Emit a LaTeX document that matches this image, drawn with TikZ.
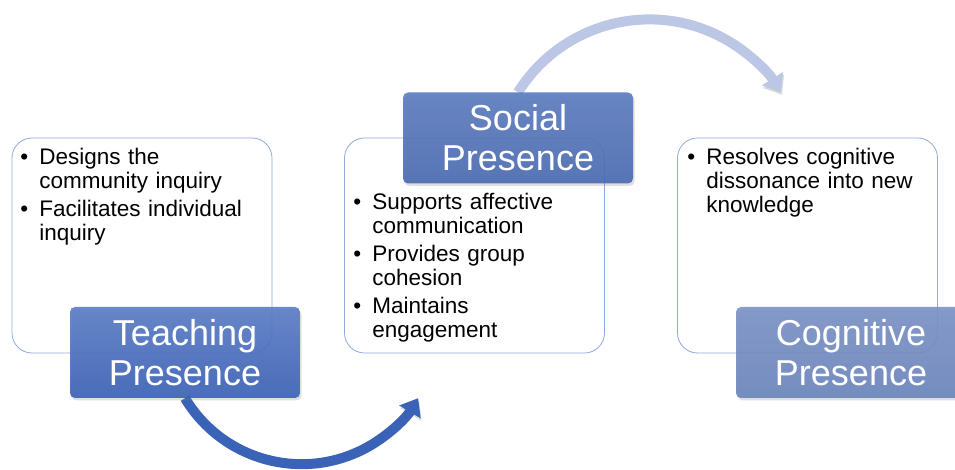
\documentclass[tikz,border=0pt]{standalone}
\usepackage{fontspec}
\setmainfont{Liberation Sans}
\usetikzlibrary{arrows.meta,shadows}
\definecolor{boxline}{HTML}{8FAADC}
\definecolor{tpTop}{HTML}{5A7CC6}
\definecolor{tpBot}{HTML}{3A61B5}
\definecolor{spTop}{HTML}{5B7BC0}
\definecolor{spBot}{HTML}{496AB0}
\definecolor{cpTop}{HTML}{7A92C6}
\definecolor{cpBot}{HTML}{6A84BC}
\definecolor{arrDark}{HTML}{3A63B8}
\definecolor{arrLight}{HTML}{BCC7E6}
\newcommand\bitem[1]{\hangindent=19pt\hangafter=1\noindent\makebox[19pt][l]{\textbullet}#1\par}
\begin{document}
\begin{tikzpicture}[x=1pt,y=1pt,
  listbox/.style={draw=boxline, line width=0.8pt, fill=white, rounded corners=20pt,
    minimum width=260pt, minimum height=215pt, inner sep=0pt},
  titlebox/.style={rounded corners=5pt, minimum width=230pt, minimum height=91pt,
    inner sep=0pt, align=center, text=white, font=\fontsize{36}{40}\selectfont,
    fill opacity=0.9, text opacity=1,
    drop shadow={shadow xshift=1.5pt, shadow yshift=-2.5pt, opacity=0.25}},
  bullets/.style={anchor=north west, inner sep=0pt, text width=245pt, align=left,
    font=\fontsize{22.5}{24}\selectfont},
  flowarrow/.style={line width=10pt, -{Triangle[length=16pt,width=24pt]},
    preaction={draw=black, opacity=0.15, transform canvas={xshift=1pt,yshift=-2.5pt}}},
]
\useasboundingbox (0,0) rectangle (955,470);
\clip (0,0) rectangle (955,470);

% content boxes
\node[listbox] (b1) at (142,224.5) {};
\node[listbox] (b2) at (474.5,224.5) {};
\node[listbox] (b3) at (807.5,224.5) {};

\node[bullets] (t1) at ([xshift=8.5pt,yshift=-10.8pt]b1.north west) {\setlength\parskip{4pt}%
  \bitem{Designs the\newline community inquiry}%
  \bitem{Facilitates individual\newline inquiry}};
\node[bullets] (t2) at ([xshift=9pt,yshift=-55.8pt]b2.north west) {\setlength\parskip{4pt}%
  \bitem{Supports affective\newline communication}%
  \bitem{Provides group\newline cohesion}%
  \bitem{Maintains\newline engagement}};
\node[bullets] (t3) at ([xshift=10pt,yshift=-10.8pt]b3.north west) {\setlength\parskip{4pt}%
  \bitem{Resolves cognitive\newline dissonance into new\newline knowledge}};

% title box positions
\coordinate (tpc) at (185,117.5);
\coordinate (spc) at (518,332);
\coordinate (cpc) at (851,117.5);
\path (tpc) node[minimum width=230pt, minimum height=91pt, inner sep=0pt] (tpref) {};
\path (spc) node[minimum width=230pt, minimum height=91pt, inner sep=0pt] (spref) {};

% arrows (beneath the title boxes)
\draw[flowarrow, arrDark] (tpref.south) arc[start angle=211, end angle=329, radius=136];
\draw[flowarrow, arrLight] (spref.north) arc[start angle=148, end angle=32, radius=155];

% title boxes
\node[titlebox, top color=tpTop, bottom color=tpBot] (tp) at (tpc) {Teaching\\Presence};
\node[titlebox, top color=spTop, bottom color=spBot] (sp) at (spc) {Social\\Presence};
\node[titlebox, top color=cpTop, bottom color=cpBot] (cp) at (cpc) {Cognitive\\Presence};
\end{tikzpicture}
\end{document}
